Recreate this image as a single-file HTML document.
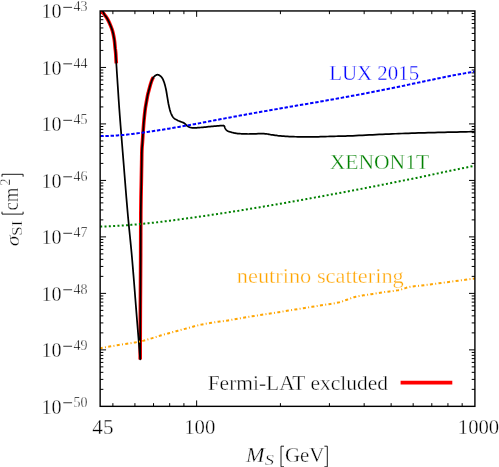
<!DOCTYPE html>
<html><head><meta charset="utf-8"><style>
html,body{margin:0;padding:0;background:#fff;}
svg{display:block;font-family:"Liberation Serif",serif;will-change:transform;}
text{stroke:#fff;stroke-width:0.35px;}
</style></head><body>
<svg width="499" height="467" viewBox="0 0 499 467">
<rect width="499" height="467" fill="#fff"/>
<path d="M112.88 406.35v-3.2M112.88 10.95v3.2M134.91 406.35v-3.2M134.91 10.95v3.2M153.54 406.35v-3.2M153.54 10.95v3.2M169.68 406.35v-3.2M169.68 10.95v3.2M183.91 406.35v-3.2M183.91 10.95v3.2M280.41 406.35v-3.2M280.41 10.95v3.2M329.41 406.35v-3.2M329.41 10.95v3.2M364.17 406.35v-3.2M364.17 10.95v3.2M391.14 406.35v-3.2M391.14 10.95v3.2M413.17 406.35v-3.2M413.17 10.95v3.2M431.80 406.35v-3.2M431.80 10.95v3.2M447.93 406.35v-3.2M447.93 10.95v3.2M462.17 406.35v-3.2M462.17 10.95v3.2M196.65 406.35v-5.9M196.65 10.95v5.9M100.15 389.35h3.2M474.9 389.35h-3.2M100.15 379.40h3.2M474.9 379.40h-3.2M100.15 372.34h3.2M474.9 372.34h-3.2M100.15 366.87h3.2M474.9 366.87h-3.2M100.15 362.40h3.2M474.9 362.40h-3.2M100.15 358.61h3.2M474.9 358.61h-3.2M100.15 355.34h3.2M474.9 355.34h-3.2M100.15 352.45h3.2M474.9 352.45h-3.2M100.15 349.86h5.9M474.9 349.86h-5.9M100.15 332.86h3.2M474.9 332.86h-3.2M100.15 322.91h3.2M474.9 322.91h-3.2M100.15 315.86h3.2M474.9 315.86h-3.2M100.15 310.38h3.2M474.9 310.38h-3.2M100.15 305.91h3.2M474.9 305.91h-3.2M100.15 302.13h3.2M474.9 302.13h-3.2M100.15 298.85h3.2M474.9 298.85h-3.2M100.15 295.96h3.2M474.9 295.96h-3.2M100.15 293.38h5.9M474.9 293.38h-5.9M100.15 276.37h3.2M474.9 276.37h-3.2M100.15 266.43h3.2M474.9 266.43h-3.2M100.15 259.37h3.2M474.9 259.37h-3.2M100.15 253.90h3.2M474.9 253.90h-3.2M100.15 249.42h3.2M474.9 249.42h-3.2M100.15 245.64h3.2M474.9 245.64h-3.2M100.15 242.37h3.2M474.9 242.37h-3.2M100.15 239.48h3.2M474.9 239.48h-3.2M100.15 236.89h5.9M474.9 236.89h-5.9M100.15 219.89h3.2M474.9 219.89h-3.2M100.15 209.94h3.2M474.9 209.94h-3.2M100.15 202.89h3.2M474.9 202.89h-3.2M100.15 197.41h3.2M474.9 197.41h-3.2M100.15 192.94h3.2M474.9 192.94h-3.2M100.15 189.16h3.2M474.9 189.16h-3.2M100.15 185.88h3.2M474.9 185.88h-3.2M100.15 182.99h3.2M474.9 182.99h-3.2M100.15 180.41h5.9M474.9 180.41h-5.9M100.15 163.40h3.2M474.9 163.40h-3.2M100.15 153.46h3.2M474.9 153.46h-3.2M100.15 146.40h3.2M474.9 146.40h-3.2M100.15 140.93h3.2M474.9 140.93h-3.2M100.15 136.45h3.2M474.9 136.45h-3.2M100.15 132.67h3.2M474.9 132.67h-3.2M100.15 129.40h3.2M474.9 129.40h-3.2M100.15 126.51h3.2M474.9 126.51h-3.2M100.15 123.92h5.9M474.9 123.92h-5.9M100.15 106.92h3.2M474.9 106.92h-3.2M100.15 96.97h3.2M474.9 96.97h-3.2M100.15 89.91h3.2M474.9 89.91h-3.2M100.15 84.44h3.2M474.9 84.44h-3.2M100.15 79.97h3.2M474.9 79.97h-3.2M100.15 76.19h3.2M474.9 76.19h-3.2M100.15 72.91h3.2M474.9 72.91h-3.2M100.15 70.02h3.2M474.9 70.02h-3.2M100.15 67.44h5.9M474.9 67.44h-5.9M100.15 50.43h3.2M474.9 50.43h-3.2M100.15 40.49h3.2M474.9 40.49h-3.2M100.15 33.43h3.2M474.9 33.43h-3.2M100.15 27.95h3.2M474.9 27.95h-3.2M100.15 23.48h3.2M474.9 23.48h-3.2M100.15 19.70h3.2M474.9 19.70h-3.2M100.15 16.42h3.2M474.9 16.42h-3.2M100.15 13.53h3.2M474.9 13.53h-3.2" stroke="#000" stroke-width="1" fill="none"/>
<defs><clipPath id="cp"><rect x="100.15" y="10.95" width="374.75" height="395.40"/></clipPath></defs>
<g clip-path="url(#cp)">
<path d="M100.20 11.20L102.40 12.20L104.40 14.40L104.64 14.78L104.90 15.16L105.17 15.55L105.46 15.94L105.75 16.34L106.04 16.75L106.32 17.17L106.60 17.60L106.87 18.04L107.13 18.48L107.39 18.94L107.66 19.40L107.92 19.88L108.18 20.37L108.44 20.87L108.70 21.40L108.97 21.95L109.23 22.53L109.51 23.13L109.78 23.74L110.04 24.36L110.30 24.98L110.56 25.59L110.80 26.20L111.04 26.80L111.27 27.40L111.49 28.00L111.71 28.60L111.92 29.20L112.13 29.80L112.32 30.40L112.50 31.00L112.67 31.60L112.82 32.19L112.97 32.77L113.10 33.36L113.23 33.96L113.35 34.56L113.48 35.17L113.60 35.80L113.72 36.44L113.85 37.08L113.97 37.74L114.08 38.40L114.19 39.08L114.30 39.77L114.40 40.47L114.50 41.20L114.59 41.96L114.67 42.75L114.75 43.57L114.82 44.40L114.89 45.23L114.96 46.05L115.03 46.84L115.10 47.60L115.17 48.29L115.25 48.90L115.33 49.48L115.40 50.05L115.47 50.66L115.55 51.33L115.62 52.09L115.70 53.00L115.77 53.97L115.83 54.93L115.88 55.93L115.94 57.03L116.01 58.27L116.08 59.70L116.18 61.38L116.30 63.35" stroke="#f00" stroke-width="3.6" fill="none" stroke-linejoin="round"/>
<path d="M140.20 359.40L140.21 356.50L140.21 352.80L140.22 348.42L140.23 343.45L140.24 338.02L140.26 332.22L140.27 326.18L140.30 320.00L140.33 313.42L140.37 306.21L140.42 298.57L140.47 290.66L140.52 282.67L140.57 274.78L140.61 267.16L140.65 260.00L140.68 253.13L140.70 246.31L140.72 239.61L140.74 233.08L140.76 226.79L140.78 220.81L140.81 215.19L140.85 210.00L140.90 205.29L140.96 201.02L141.02 197.12L141.09 193.52L141.16 190.15L141.23 186.94L141.29 183.81L141.35 180.70L141.40 177.63L141.45 174.67L141.50 171.84L141.54 169.14L141.59 166.60L141.63 164.22L141.66 162.02L141.70 160.00L141.73 158.23L141.75 156.71L141.77 155.40L141.78 154.24L141.80 153.18L141.83 152.15L141.86 151.11L141.90 150.00L141.96 148.86L142.02 147.77L142.10 146.71L142.18 145.66L142.26 144.62L142.34 143.57L142.42 142.50L142.50 141.40L142.58 140.25L142.65 139.05L142.73 137.83L142.81 136.60L142.88 135.38L142.96 134.20L143.03 133.07L143.10 132.00L143.17 130.99L143.24 130.02L143.30 129.08L143.37 128.18L143.43 127.32L143.49 126.50L143.55 125.73L143.60 125.00L143.65 124.35L143.69 123.78L143.73 123.28L143.77 122.81L143.80 122.35L143.84 121.86L143.89 121.32L143.95 120.70L144.02 120.00L144.09 119.25L144.17 118.46L144.25 117.64L144.33 116.80L144.42 115.96L144.51 115.12L144.60 114.30L144.69 113.49L144.78 112.68L144.88 111.87L144.97 111.05L145.07 110.23L145.18 109.42L145.28 108.61L145.40 107.80L145.52 107.00L145.65 106.19L145.79 105.39L145.93 104.59L146.07 103.80L146.21 103.00L146.36 102.20L146.50 101.40L146.65 100.58L146.80 99.74L146.95 98.89L147.11 98.05L147.26 97.22L147.41 96.43L147.56 95.69L147.70 95.00L147.82 94.42L147.93 93.95L148.02 93.54L148.12 93.16L148.22 92.76L148.35 92.30L148.50 91.72L148.70 91.00L148.95 90.08L149.24 89.00L149.56 87.80L149.90 86.54L150.25 85.28L150.60 84.06L150.94 82.95L151.25 82.00L151.53 81.19L151.79 80.47L152.04 79.83L152.28 79.25L152.54 78.72L152.82 78.23L153.14 77.76L153.50 77.30" stroke="#f00" stroke-width="3.6" fill="none" stroke-linejoin="round"/>
<path d="M101.60 8.00L101.71 8.27L101.85 8.64L102.02 9.08L102.21 9.57L102.41 10.08L102.62 10.59L102.82 11.07L103.00 11.50L103.17 11.89L103.33 12.26L103.49 12.62L103.65 12.97L103.82 13.32L103.99 13.67L104.19 14.03L104.40 14.40L104.64 14.78L104.90 15.16L105.17 15.55L105.46 15.94L105.75 16.34L106.04 16.75L106.32 17.17L106.60 17.60L106.87 18.04L107.13 18.48L107.39 18.94L107.66 19.40L107.92 19.88L108.18 20.37L108.44 20.87L108.70 21.40L108.97 21.95L109.23 22.53L109.51 23.13L109.78 23.74L110.04 24.36L110.30 24.98L110.56 25.59L110.80 26.20L111.04 26.80L111.27 27.40L111.49 28.00L111.71 28.60L111.92 29.20L112.13 29.80L112.32 30.40L112.50 31.00L112.67 31.60L112.82 32.19L112.97 32.77L113.10 33.36L113.23 33.96L113.35 34.56L113.48 35.17L113.60 35.80L113.72 36.44L113.85 37.08L113.97 37.74L114.08 38.40L114.19 39.08L114.30 39.77L114.40 40.47L114.50 41.20L114.59 41.96L114.67 42.75L114.75 43.57L114.82 44.40L114.89 45.23L114.96 46.05L115.03 46.84L115.10 47.60L115.17 48.29L115.25 48.90L115.33 49.48L115.40 50.05L115.47 50.66L115.55 51.33L115.62 52.09L115.70 53.00L115.77 53.97L115.83 54.93L115.88 55.93L115.94 57.03L116.01 58.27L116.08 59.70L116.18 61.38L116.30 63.35L116.45 65.66L116.62 68.29L116.80 71.18L117.00 74.25L117.21 77.45L117.43 80.70L117.64 83.94L117.85 87.10L118.05 90.15L118.24 93.12L118.43 96.08L118.63 99.10L118.84 102.23L119.06 105.55L119.32 109.12L119.60 113.00L119.91 117.10L120.24 121.34L120.58 125.74L120.95 130.37L121.35 135.26L121.77 140.47L122.22 146.03L122.70 152.00L123.23 158.58L123.81 165.80L124.42 173.49L125.06 181.44L125.71 189.46L126.35 197.35L126.99 204.93L127.60 212.00L128.19 218.49L128.77 224.56L129.34 230.35L129.91 236.00L130.47 241.65L131.04 247.44L131.62 253.51L132.20 260.00L132.80 267.07L133.42 274.64L134.06 282.53L134.69 290.54L135.31 298.48L135.91 306.17L136.48 313.40L137.00 320.00L137.50 326.18L137.99 332.22L138.46 338.02L138.90 343.45L139.30 348.42L139.66 352.80L139.96 356.50L140.20 359.40L140.21 356.50L140.21 352.80L140.22 348.42L140.23 343.45L140.24 338.02L140.26 332.22L140.27 326.18L140.30 320.00L140.33 313.42L140.37 306.21L140.42 298.57L140.47 290.66L140.52 282.67L140.57 274.78L140.61 267.16L140.65 260.00L140.68 253.13L140.70 246.31L140.72 239.61L140.74 233.08L140.76 226.79L140.78 220.81L140.81 215.19L140.85 210.00L140.90 205.29L140.96 201.02L141.02 197.12L141.09 193.52L141.16 190.15L141.23 186.94L141.29 183.81L141.35 180.70L141.40 177.63L141.45 174.67L141.50 171.84L141.54 169.14L141.59 166.60L141.63 164.22L141.66 162.02L141.70 160.00L141.73 158.23L141.75 156.71L141.77 155.40L141.78 154.24L141.80 153.18L141.83 152.15L141.86 151.11L141.90 150.00L141.96 148.86L142.02 147.77L142.10 146.71L142.18 145.66L142.26 144.62L142.34 143.57L142.42 142.50L142.50 141.40L142.58 140.25L142.65 139.05L142.73 137.83L142.81 136.60L142.88 135.38L142.96 134.20L143.03 133.07L143.10 132.00L143.17 130.99L143.24 130.02L143.30 129.08L143.37 128.18L143.43 127.32L143.49 126.50L143.55 125.73L143.60 125.00L143.65 124.35L143.69 123.78L143.73 123.28L143.77 122.81L143.80 122.35L143.84 121.86L143.89 121.32L143.95 120.70L144.02 120.00L144.09 119.25L144.17 118.46L144.25 117.64L144.33 116.80L144.42 115.96L144.51 115.12L144.60 114.30L144.69 113.49L144.78 112.68L144.88 111.87L144.97 111.05L145.07 110.23L145.18 109.42L145.28 108.61L145.40 107.80L145.52 107.00L145.65 106.19L145.79 105.39L145.93 104.59L146.07 103.80L146.21 103.00L146.36 102.20L146.50 101.40L146.65 100.58L146.80 99.74L146.95 98.89L147.11 98.05L147.26 97.22L147.41 96.43L147.56 95.69L147.70 95.00L147.82 94.42L147.93 93.95L148.02 93.54L148.12 93.16L148.22 92.76L148.35 92.30L148.50 91.72L148.70 91.00L148.95 90.08L149.24 89.00L149.56 87.80L149.90 86.54L150.25 85.28L150.60 84.06L150.94 82.95L151.25 82.00L151.53 81.19L151.79 80.47L152.04 79.83L152.28 79.25L152.54 78.72L152.82 78.23L153.14 77.76L153.50 77.30L153.92 76.84L154.37 76.38L154.87 75.95L155.38 75.55L155.92 75.21L156.45 74.94L156.98 74.77L157.50 74.70L158.02 74.75L158.56 74.91L159.10 75.15L159.64 75.47L160.18 75.85L160.69 76.27L161.16 76.73L161.60 77.20L161.99 77.70L162.35 78.24L162.68 78.83L162.99 79.46L163.28 80.12L163.55 80.82L163.83 81.54L164.10 82.30L164.37 83.09L164.63 83.93L164.88 84.81L165.12 85.71L165.35 86.64L165.57 87.59L165.79 88.54L166.00 89.50L166.20 90.47L166.39 91.47L166.56 92.48L166.73 93.51L166.90 94.54L167.06 95.57L167.23 96.60L167.40 97.60L167.57 98.59L167.74 99.59L167.90 100.58L168.07 101.56L168.24 102.54L168.41 103.51L168.60 104.46L168.80 105.40L169.01 106.34L169.22 107.27L169.45 108.21L169.68 109.12L169.91 110.02L170.16 110.89L170.43 111.72L170.70 112.50L170.98 113.24L171.27 113.95L171.58 114.63L171.89 115.28L172.21 115.89L172.56 116.47L172.92 117.00L173.30 117.50L173.71 117.95L174.15 118.34L174.60 118.69L175.08 119.01L175.56 119.30L176.04 119.58L176.53 119.84L177.00 120.10L177.47 120.35L177.96 120.58L178.44 120.79L178.93 120.98L179.41 121.17L179.89 121.34L180.35 121.52L180.80 121.70L181.24 121.88L181.68 122.04L182.11 122.20L182.53 122.36L182.94 122.51L183.32 122.67L183.68 122.83L184.00 123.00L184.28 123.18L184.53 123.36L184.74 123.54L184.94 123.73L185.12 123.92L185.30 124.11L185.49 124.31L185.70 124.50L185.91 124.70L186.11 124.90L186.31 125.10L186.52 125.31L186.73 125.51L186.96 125.71L187.22 125.91L187.50 126.10L187.81 126.29L188.14 126.49L188.49 126.68L188.86 126.88L189.25 127.06L189.65 127.22L190.07 127.37L190.50 127.50L190.93 127.60L191.35 127.69L191.79 127.76L192.24 127.82L192.72 127.86L193.25 127.89L193.84 127.90L194.50 127.90L195.22 127.88L195.98 127.85L196.79 127.80L197.65 127.74L198.57 127.67L199.54 127.59L200.59 127.50L201.70 127.40L202.91 127.29L204.24 127.16L205.64 127.02L207.10 126.87L208.58 126.72L210.06 126.57L211.51 126.43L212.90 126.30L214.31 126.18L215.80 126.06L217.32 125.94L218.80 125.83L220.20 125.73L221.45 125.64L222.50 125.56L223.30 125.50L223.39 125.55L223.50 125.61L223.64 125.67L223.79 125.75L223.95 125.85L224.11 125.97L224.26 126.12L224.40 126.30L224.52 126.53L224.64 126.79L224.74 127.10L224.85 127.42L224.96 127.75L225.09 128.08L225.23 128.40L225.40 128.70L225.59 128.98L225.78 129.27L225.99 129.55L226.21 129.82L226.45 130.09L226.71 130.35L226.99 130.58L227.30 130.80L227.63 130.99L227.97 131.16L228.33 131.32L228.71 131.46L229.12 131.59L229.55 131.72L230.01 131.86L230.50 132.00L231.03 132.15L231.61 132.32L232.23 132.48L232.86 132.64L233.51 132.80L234.16 132.95L234.79 133.08L235.40 133.20L235.96 133.30L236.49 133.38L236.99 133.45L237.49 133.51L238.02 133.56L238.60 133.61L239.25 133.65L240.00 133.70L240.80 133.75L241.62 133.80L242.48 133.85L243.41 133.90L244.42 133.94L245.54 133.97L246.79 133.99L248.20 134.00L249.86 133.98L251.78 133.93L253.89 133.87L256.07 133.80L258.26 133.74L260.35 133.69L262.26 133.67L263.90 133.70L265.24 133.77L266.34 133.87L267.29 134.00L268.13 134.15L268.93 134.31L269.75 134.48L270.65 134.64L271.70 134.80L272.84 134.96L274.00 135.13L275.18 135.30L276.41 135.47L277.70 135.65L279.07 135.81L280.53 135.96L282.10 136.10L283.78 136.22L285.57 136.33L287.45 136.44L289.41 136.53L291.42 136.62L293.49 136.69L295.59 136.75L297.70 136.80L299.86 136.84L302.09 136.86L304.37 136.87L306.69 136.88L309.03 136.87L311.37 136.85L313.70 136.83L316.00 136.80L318.30 136.76L320.61 136.71L322.94 136.64L325.26 136.58L327.56 136.50L329.82 136.43L332.04 136.36L334.20 136.30L336.22 136.25L338.08 136.21L339.85 136.18L341.61 136.15L343.43 136.11L345.39 136.06L347.55 135.99L350.00 135.90L352.76 135.78L355.78 135.63L359.00 135.47L362.36 135.29L365.80 135.11L369.26 134.93L372.68 134.76L376.00 134.60L379.25 134.45L382.50 134.30L385.75 134.16L389.00 134.02L392.25 133.88L395.50 133.75L398.75 133.62L402.00 133.50L405.25 133.38L408.50 133.27L411.75 133.17L415.00 133.07L418.25 132.97L421.50 132.88L424.75 132.79L428.00 132.70L431.28 132.61L434.62 132.53L437.97 132.46L441.32 132.38L444.62 132.31L447.86 132.24L450.99 132.17L454.00 132.10L457.00 132.03L460.07 131.96L463.13 131.88L466.07 131.81L468.82 131.75L471.26 131.69L473.32 131.64L474.90 131.60" stroke="#000" stroke-width="1.75" fill="none" stroke-linejoin="round"/>
<path d="M100.20 136.11L100.95 136.10L101.96 136.08L103.15 136.06L104.47 136.04L105.88 136.01L107.31 135.97L108.70 135.93L110.00 135.88L111.24 135.82L112.49 135.75L113.74 135.68L114.99 135.60L116.24 135.52L117.50 135.43L118.75 135.33L120.00 135.23L121.25 135.12L122.50 135.01L123.75 134.90L125.00 134.77L126.25 134.65L127.50 134.52L128.75 134.38L130.00 134.24L131.25 134.10L132.50 133.94L133.75 133.79L135.00 133.63L136.25 133.47L137.50 133.30L138.75 133.13L140.00 132.97L141.25 132.81L142.50 132.64L143.75 132.47L145.00 132.31L146.25 132.14L147.50 131.96L148.75 131.79L150.00 131.61L151.25 131.43L152.50 131.24L153.75 131.05L155.00 130.86L156.25 130.66L157.50 130.47L158.75 130.27L160.00 130.07L161.25 129.87L162.50 129.67L163.75 129.47L165.00 129.26L166.25 129.06L167.50 128.85L168.75 128.64L170.00 128.43L171.25 128.22L172.50 128.00L173.75 127.79L175.00 127.57L176.25 127.36L177.50 127.14L178.75 126.92L180.00 126.70L181.25 126.48L182.50 126.26L183.75 126.04L185.00 125.82L186.25 125.60L187.50 125.37L188.75 125.15L190.00 124.93L191.18 124.72L192.27 124.53L193.31 124.35L194.38 124.16L195.52 123.96L196.80 123.73L198.27 123.46L200.00 123.14L202.02 122.76L204.30 122.33L206.77 121.85L209.38 121.35L212.06 120.83L214.77 120.32L217.43 119.81L220.00 119.32L222.50 118.85L225.00 118.38L227.50 117.91L230.00 117.45L232.50 116.98L235.00 116.52L237.50 116.06L240.00 115.60L242.50 115.14L245.00 114.69L247.50 114.24L250.00 113.79L252.50 113.34L255.00 112.89L257.50 112.44L260.00 112.00L262.50 111.56L265.00 111.12L267.50 110.68L270.00 110.25L272.50 109.81L275.00 109.38L277.50 108.94L280.00 108.51L282.43 108.09L284.77 107.69L287.06 107.29L289.38 106.90L291.77 106.49L294.30 106.05L297.02 105.58L300.00 105.07L303.27 104.51L306.80 103.90L310.52 103.26L314.38 102.60L318.31 101.92L322.27 101.23L326.18 100.54L330.00 99.87L333.75 99.20L337.50 98.53L341.25 97.86L345.00 97.18L348.75 96.50L352.50 95.81L356.25 95.11L360.00 94.41L363.75 93.70L367.50 92.99L371.25 92.27L375.00 91.54L378.75 90.81L382.50 90.07L386.25 89.33L390.00 88.57L393.75 87.80L397.50 87.02L401.25 86.23L405.00 85.44L408.75 84.64L412.50 83.84L416.25 83.04L420.00 82.25L423.78 81.45L427.62 80.64L431.47 79.82L435.32 79.00L439.12 78.20L442.86 77.42L446.49 76.68L450.00 75.99L453.53 75.32L457.17 74.65L460.81 74.00L464.32 73.38L467.61 72.82L470.55 72.31L473.01 71.89L474.90 71.56" stroke="#00f" stroke-width="2" fill="none" stroke-dasharray="3.43 1.756"/>
<path d="M100.20 226.58L100.95 226.56L101.96 226.53L103.15 226.49L104.47 226.45L105.88 226.40L107.31 226.36L108.70 226.30L110.00 226.25L111.24 226.19L112.49 226.13L113.74 226.07L114.99 226.00L116.24 225.93L117.50 225.86L118.75 225.78L120.00 225.70L121.25 225.62L122.50 225.53L123.75 225.45L125.00 225.36L126.25 225.26L127.50 225.17L128.75 225.07L130.00 224.97L131.25 224.87L132.50 224.76L133.75 224.66L135.00 224.55L136.25 224.44L137.50 224.32L138.75 224.21L140.00 224.09L141.25 223.97L142.50 223.85L143.75 223.72L145.00 223.60L146.25 223.47L147.50 223.34L148.75 223.20L150.00 223.07L151.25 222.93L152.50 222.80L153.75 222.66L155.00 222.51L156.25 222.37L157.50 222.22L158.75 222.08L160.00 221.93L161.25 221.78L162.50 221.63L163.75 221.48L165.00 221.32L166.25 221.17L167.50 221.01L168.75 220.85L170.00 220.69L171.25 220.53L172.50 220.36L173.75 220.20L175.00 220.03L176.25 219.86L177.50 219.70L178.75 219.53L180.00 219.36L181.25 219.19L182.50 219.03L183.75 218.86L185.00 218.70L186.25 218.53L187.50 218.36L188.75 218.19L190.00 218.02L191.18 217.86L192.27 217.71L193.31 217.56L194.38 217.41L195.52 217.25L196.80 217.07L198.27 216.85L200.00 216.60L202.02 216.30L204.30 215.97L206.77 215.61L209.38 215.22L212.06 214.82L214.77 214.42L217.43 214.02L220.00 213.63L222.50 213.25L225.00 212.87L227.50 212.48L230.00 212.09L232.50 211.70L235.00 211.31L237.50 210.91L240.00 210.51L242.50 210.10L245.00 209.69L247.50 209.28L250.00 208.86L252.50 208.44L255.00 208.02L257.50 207.59L260.00 207.17L262.50 206.75L265.00 206.32L267.50 205.89L270.00 205.46L272.50 205.03L275.00 204.60L277.50 204.16L280.00 203.73L282.43 203.31L284.77 202.90L287.06 202.50L289.38 202.10L291.77 201.67L294.30 201.23L297.02 200.74L300.00 200.21L303.27 199.62L306.80 198.99L310.52 198.32L314.38 197.62L318.31 196.90L322.27 196.18L326.18 195.46L330.00 194.76L333.75 194.06L337.50 193.36L341.25 192.66L345.00 191.95L348.75 191.24L352.50 190.53L356.25 189.81L360.00 189.09L363.75 188.37L367.50 187.64L371.25 186.91L375.00 186.17L378.75 185.44L382.50 184.70L386.25 183.96L390.00 183.21L393.75 182.46L397.50 181.71L401.25 180.96L405.00 180.21L408.75 179.45L412.50 178.69L416.25 177.92L420.00 177.15L423.78 176.37L427.62 175.56L431.47 174.75L435.32 173.94L439.12 173.13L442.86 172.34L446.49 171.58L450.00 170.84L453.53 170.10L457.17 169.35L460.81 168.59L464.32 167.87L467.61 167.19L470.55 166.58L473.01 166.07L474.90 165.68" stroke="#008000" stroke-width="2" fill="none" stroke-dasharray="2 2.316"/>
<path d="M100.20 348.20L101.62 347.95L103.49 347.63L105.71 347.24L108.19 346.81L110.84 346.36L113.55 345.89L116.24 345.43L118.80 345.00L121.37 344.58L124.11 344.15L126.93 343.71L129.76 343.27L132.53 342.84L135.16 342.41L137.57 342.00L139.70 341.60L141.48 341.23L142.98 340.89L144.25 340.56L145.39 340.24L146.47 339.91L147.56 339.57L148.75 339.20L150.10 338.80L151.60 338.35L153.16 337.87L154.78 337.37L156.43 336.85L158.10 336.32L159.78 335.80L161.45 335.29L163.10 334.80L164.73 334.33L166.37 333.87L168.01 333.42L169.65 332.97L171.29 332.53L172.93 332.08L174.57 331.64L176.20 331.20L177.87 330.75L179.61 330.28L181.37 329.81L183.11 329.34L184.81 328.88L186.41 328.45L187.89 328.06L189.20 327.70L190.32 327.39L191.28 327.12L192.11 326.89L192.86 326.68L193.55 326.48L194.23 326.29L194.93 326.10L195.70 325.90L196.47 325.70L197.17 325.52L197.85 325.35L198.54 325.18L199.29 325.00L200.12 324.82L201.08 324.62L202.20 324.40L203.52 324.16L205.00 323.89L206.61 323.61L208.31 323.32L210.05 323.03L211.81 322.74L213.54 322.46L215.20 322.20L216.77 321.96L218.29 321.75L219.79 321.55L221.29 321.36L222.83 321.15L224.44 320.93L226.15 320.68L228.00 320.40L229.95 320.08L231.94 319.74L234.01 319.38L236.17 318.99L238.43 318.59L240.81 318.18L243.33 317.74L246.00 317.30L248.87 316.84L251.96 316.35L255.19 315.84L258.54 315.32L261.96 314.79L265.39 314.26L268.78 313.72L272.10 313.20L275.36 312.68L278.63 312.15L281.89 311.63L285.16 311.10L288.42 310.57L291.68 310.05L294.94 309.52L298.20 309.00L301.54 308.47L304.99 307.93L308.49 307.38L311.97 306.83L315.35 306.30L318.56 305.80L321.53 305.33L324.20 304.90L326.54 304.53L328.62 304.21L330.48 303.93L332.16 303.68L333.71 303.43L335.17 303.18L336.59 302.90L338.00 302.60L339.37 302.26L340.63 301.91L341.81 301.54L342.93 301.16L343.98 300.78L345.00 300.41L346.00 300.05L347.00 299.70L347.97 299.36L348.89 299.02L349.77 298.69L350.62 298.36L351.46 298.05L352.30 297.75L353.14 297.46L354.00 297.20L354.87 296.96L355.75 296.74L356.62 296.54L357.49 296.36L358.37 296.18L359.24 296.02L360.12 295.86L361.00 295.70L361.84 295.56L362.61 295.45L363.35 295.35L364.11 295.25L364.93 295.15L365.84 295.03L366.88 294.88L368.10 294.70L369.52 294.47L371.11 294.20L372.84 293.91L374.67 293.60L376.55 293.28L378.44 292.97L380.30 292.67L382.10 292.40L383.90 292.15L385.76 291.91L387.66 291.68L389.54 291.46L391.36 291.25L393.09 291.03L394.68 290.82L396.10 290.60L397.31 290.39L398.34 290.18L399.24 289.97L400.04 289.77L400.78 289.56L401.51 289.35L402.27 289.13L403.10 288.90L403.93 288.65L404.68 288.39L405.41 288.12L406.16 287.84L406.95 287.57L407.85 287.30L408.89 287.04L410.10 286.80L411.43 286.59L412.80 286.41L414.26 286.26L415.84 286.10L417.58 285.93L419.53 285.74L421.72 285.50L424.20 285.20L427.07 284.83L430.35 284.41L433.91 283.94L437.66 283.44L441.48 282.93L445.25 282.43L448.86 281.94L452.20 281.50L455.45 281.07L458.78 280.63L462.10 280.19L465.30 279.77L468.28 279.37L470.95 279.02L473.18 278.73L474.90 278.50" stroke="#ffa500" stroke-width="2" fill="none" stroke-dasharray="3 2.32 1 2.32" stroke-dashoffset="0.5"/>
</g>
<path d="M400.6 382.7H452.3" stroke="#f00" stroke-width="3.8" fill="none"/>
<rect x="100.15" y="10.95" width="374.75" height="395.40" fill="none" stroke="#000" stroke-width="1.4"/>
<g fill="#000">
<text x="41.5" y="18.4" font-size="20.5" textLength="20.2" lengthAdjust="spacingAndGlyphs">10</text>
<path d="M63.3 7.35H72.1" stroke="#000" stroke-width="0.8" fill="none"/>
<text x="73.6" y="11.2" font-size="14" textLength="14" lengthAdjust="spacingAndGlyphs">43</text>
<text x="41.5" y="74.9" font-size="20.5" textLength="20.2" lengthAdjust="spacingAndGlyphs">10</text>
<path d="M63.3 63.84H72.1" stroke="#000" stroke-width="0.8" fill="none"/>
<text x="73.6" y="67.7" font-size="14" textLength="14" lengthAdjust="spacingAndGlyphs">44</text>
<text x="41.5" y="131.4" font-size="20.5" textLength="20.2" lengthAdjust="spacingAndGlyphs">10</text>
<path d="M63.3 120.32H72.1" stroke="#000" stroke-width="0.8" fill="none"/>
<text x="73.6" y="124.2" font-size="14" textLength="14" lengthAdjust="spacingAndGlyphs">45</text>
<text x="41.5" y="187.9" font-size="20.5" textLength="20.2" lengthAdjust="spacingAndGlyphs">10</text>
<path d="M63.3 176.81H72.1" stroke="#000" stroke-width="0.8" fill="none"/>
<text x="73.6" y="180.7" font-size="14" textLength="14" lengthAdjust="spacingAndGlyphs">46</text>
<text x="41.5" y="244.4" font-size="20.5" textLength="20.2" lengthAdjust="spacingAndGlyphs">10</text>
<path d="M63.3 233.29H72.1" stroke="#000" stroke-width="0.8" fill="none"/>
<text x="73.6" y="237.2" font-size="14" textLength="14" lengthAdjust="spacingAndGlyphs">47</text>
<text x="41.5" y="300.9" font-size="20.5" textLength="20.2" lengthAdjust="spacingAndGlyphs">10</text>
<path d="M63.3 289.78H72.1" stroke="#000" stroke-width="0.8" fill="none"/>
<text x="73.6" y="293.7" font-size="14" textLength="14" lengthAdjust="spacingAndGlyphs">48</text>
<text x="41.5" y="357.4" font-size="20.5" textLength="20.2" lengthAdjust="spacingAndGlyphs">10</text>
<path d="M63.3 346.26H72.1" stroke="#000" stroke-width="0.8" fill="none"/>
<text x="73.6" y="350.2" font-size="14" textLength="14" lengthAdjust="spacingAndGlyphs">49</text>
<text x="41.5" y="413.9" font-size="20.5" textLength="20.2" lengthAdjust="spacingAndGlyphs">10</text>
<path d="M63.3 402.75H72.1" stroke="#000" stroke-width="0.8" fill="none"/>
<text x="73.6" y="406.7" font-size="14" textLength="14" lengthAdjust="spacingAndGlyphs">50</text>
<text x="92.3" y="433.6" font-size="20.5" textLength="21.2" lengthAdjust="spacingAndGlyphs">45</text>
<text x="184.2" y="433.6" font-size="20.5" textLength="31.2" lengthAdjust="spacingAndGlyphs">100</text>
<text x="457.8" y="433.5" font-size="20.5" textLength="41.4" lengthAdjust="spacingAndGlyphs">1000</text>
<text x="246.1" y="461.7" font-size="21" font-style="italic" textLength="18.6" lengthAdjust="spacingAndGlyphs">M</text>
<text x="264.8" y="464.8" font-size="14.5" font-style="italic" textLength="9.2" lengthAdjust="spacingAndGlyphs">S</text>
<path d="M284 446.2H281V466.8H284M324.4 446.2H327.3V466.8H324.4" stroke="#000" stroke-width="0.9" fill="none"/>
<text x="285" y="461.8" font-size="21" textLength="39.4" lengthAdjust="spacingAndGlyphs">GeV</text>
<text x="207.7" y="389.9" font-size="20.3" textLength="180.2" lengthAdjust="spacingAndGlyphs">Fermi-LAT excluded</text>
<g transform="translate(18.2 245.5) rotate(-90)">
<text x="-0.8" y="0.3" font-size="19" font-style="italic" textLength="10.8" lengthAdjust="spacingAndGlyphs">σ</text>
<text x="9.8" y="3.3" font-size="14.6" textLength="15" lengthAdjust="spacingAndGlyphs">SI</text>
<path d="M33.8 -16.2H31.4V4.9H33.8M68.8 -16.2H71.2V4.9H68.8" stroke="#000" stroke-width="0.9" fill="none"/>
<text x="35" y="0" font-size="20.5" textLength="23" lengthAdjust="spacingAndGlyphs">cm</text>
<text x="60.1" y="-8.3" font-size="14.3" textLength="7" lengthAdjust="spacingAndGlyphs">2</text>
</g>
</g>
<text x="329.2" y="79.8" font-size="21" fill="#00f" textLength="90" lengthAdjust="spacingAndGlyphs">LUX 2015</text>
<text x="329.7" y="169.3" font-size="21" fill="#008000" textLength="99.5" lengthAdjust="spacingAndGlyphs">XENON1T</text>
<text x="236.8" y="282.8" font-size="20.3" fill="#ffa500" textLength="167" lengthAdjust="spacingAndGlyphs">neutrino scattering</text>
</svg>
</body></html>
